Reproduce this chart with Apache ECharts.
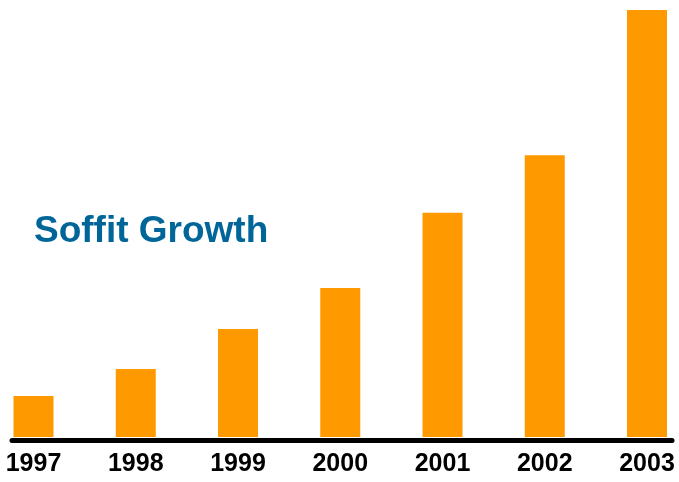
<!DOCTYPE html>
<html>
  <head>
    <title></title>
    <meta charset="UTF-8" />
    <script src="https://cdn.jsdelivr.net/npm/echarts@6/dist/echarts.min.js"></script>
  </head>
  <body style="margin:0">
    <div id="main"></div>
    <script>
      const width = 679;
      const height = 482;
      const main = document.getElementById('main');
      main.style.width = `${width}px`;
      main.style.height = `${height}px`;

      // relative growth, 2003 = 100
      const years = ['1997', '1998', '1999', '2000', '2001', '2002', '2003'];
      const growth = [9.6, 15.9, 25.3, 34.9, 52.5, 66.0, 100];

      const myChart = echarts.init(main);
      const option = {
        animation: false,
        title: {
          text: 'Soffit Growth',
          left: 29,
          top: 208,
          textStyle: {
            fontFamily: 'Liberation Sans',
            fontWeight: 'bold',
            fontSize: 37,
            color: '#006699'
          }
        },
        grid: [
          { left: 33.5, right: 32, top: 10, bottom: 45 },
          // only carries the long base line
          { left: 12, right: 7, top: 10, bottom: 42 }
        ],
        xAxis: [
          {
            type: 'category',
            gridIndex: 0,
            data: years,
            boundaryGap: false,
            axisLine: { show: false },
            axisTick: { show: false },
            axisLabel: {
              margin: 15,
              color: '#000',
              fontFamily: 'Liberation Sans',
              fontWeight: 'bold',
              fontSize: 25
            }
          },
          {
            type: 'value',
            gridIndex: 1,
            axisLine: {
              show: true,
              onZero: false,
              lineStyle: { color: '#000', width: 5, cap: 'round' }
            },
            axisTick: { show: false },
            axisLabel: { show: false },
            splitLine: { show: false }
          }
        ],
        yAxis: [
          {
            type: 'value',
            gridIndex: 0,
            min: 0,
            max: 100,
            show: false
          },
          {
            type: 'value',
            gridIndex: 1,
            show: false
          }
        ],
        series: [
          {
            type: 'bar',
            xAxisIndex: 0,
            yAxisIndex: 0,
            barWidth: 40,
            itemStyle: { color: '#FF9900' },
            data: growth
          }
        ]
      };
      myChart.setOption(option);
    </script>
  </body>
</html>
